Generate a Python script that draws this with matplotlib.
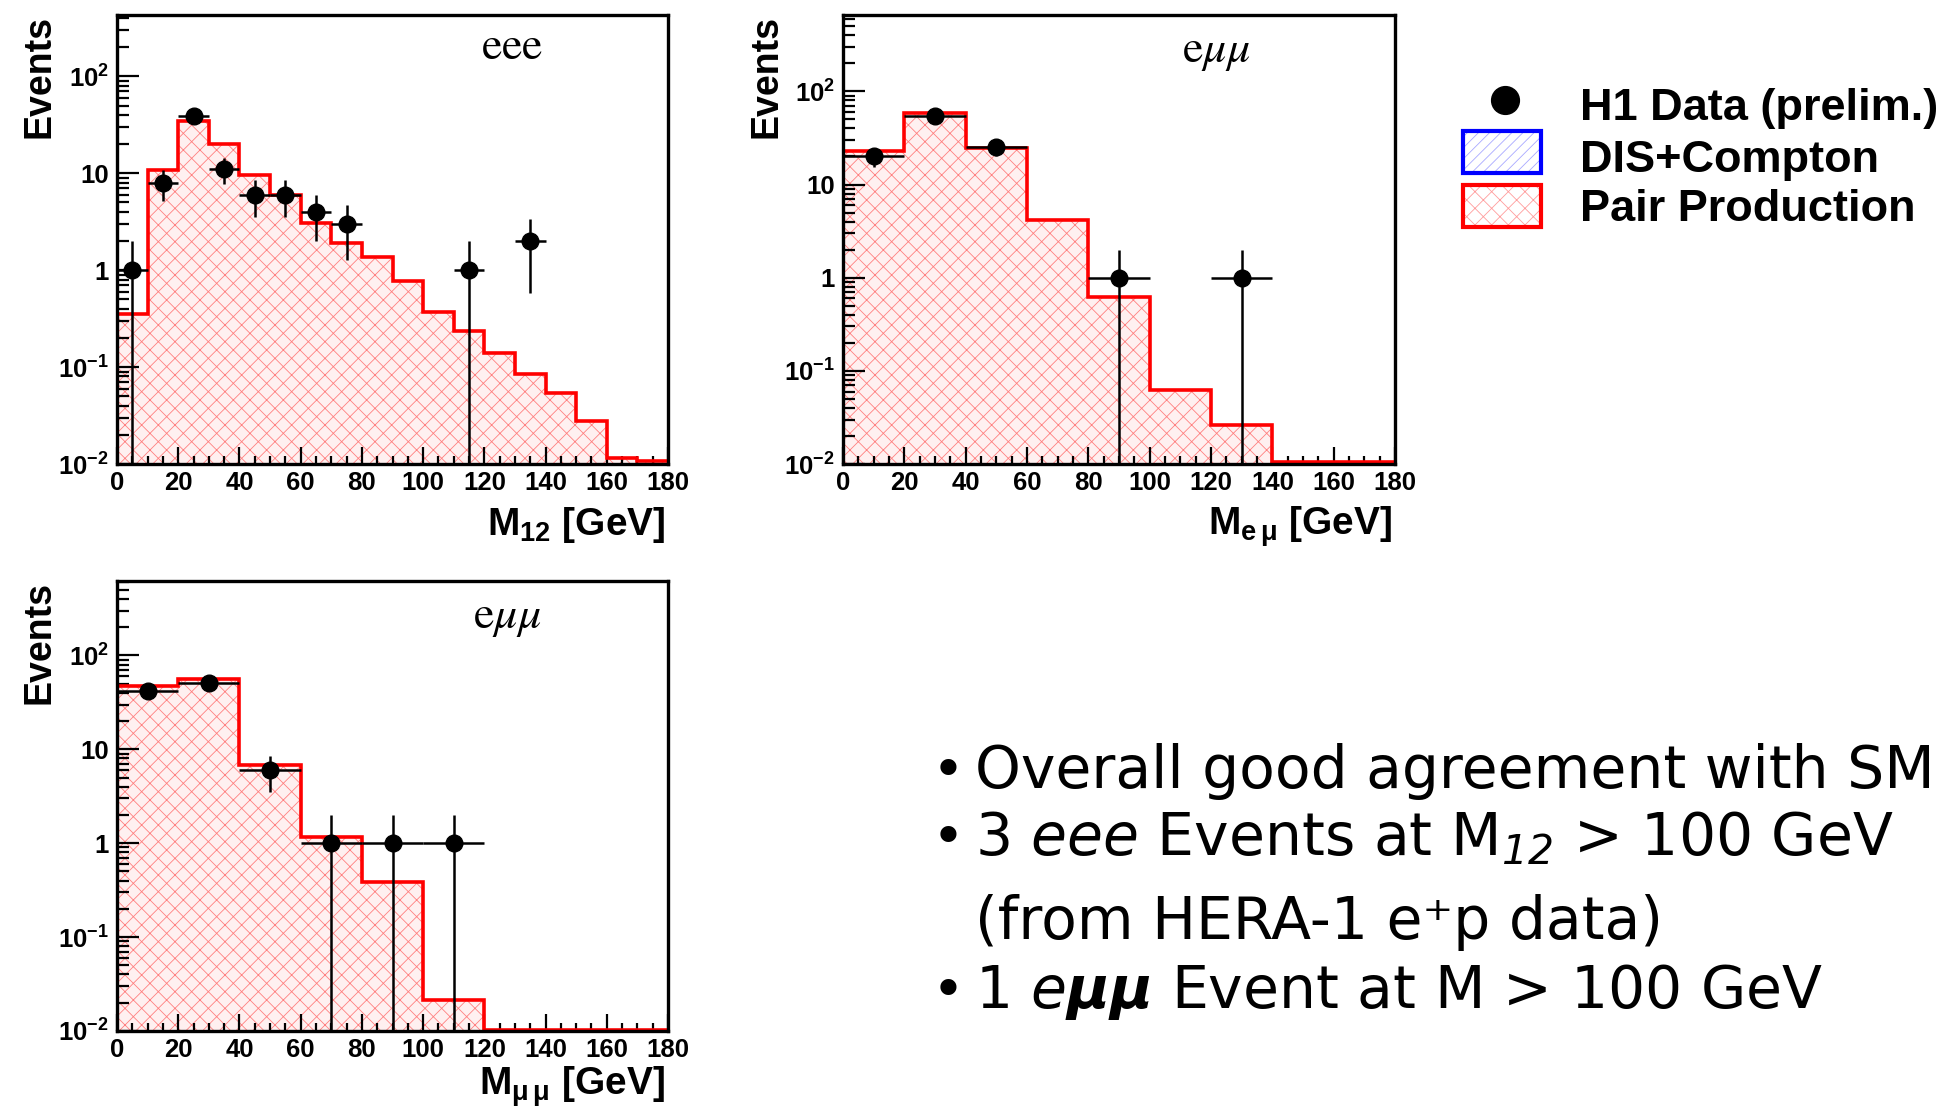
import numpy as np
import matplotlib
matplotlib.use('Agg')
import matplotlib.pyplot as plt
from matplotlib.ticker import LogLocator, NullFormatter
from matplotlib.patches import Rectangle
from matplotlib.lines import Line2D

W, H = 1955, 1112

# eee channel, 10 GeV bins
eee_edges = np.arange(0, 181, 10)
eee_pair = [0.35, 10.9, 35, 20, 9.7, 5.9, 3.1, 1.9, 1.38, 0.78, 0.37, 0.235,
            0.139, 0.084, 0.054, 0.028, 0.0115, 0.0107]
eee_mass = [5, 15, 25, 35, 45, 55, 65, 75, 115, 135]
eee_nevt = [1, 8, 39, 11, 6, 6, 4, 3, 1, 2]

# e-mu-mu channel, e-mu mass, 20 GeV bins
emu_edges = np.arange(0, 181, 20)
emu_pair = [23, 59, 24.4, 4.2, 0.62, 0.063, 0.026, 0.0105, 0.0105]
emu_mass = [10, 30, 50, 90, 130]
emu_nevt = [20, 54, 25, 1, 1]

# e-mu-mu channel, mu-mu mass, 20 GeV bins
mumu_edges = np.arange(0, 181, 20)
mumu_pair = [47, 56, 6.8, 1.16, 0.39, 0.0215, 0.0102, 0.0102, 0.0102]
mumu_mass = [10, 30, 50, 70, 90, 110]
mumu_nevt = [42, 51, 6, 1, 1, 1]

ytick_vals = [1e-2, 1e-1, 1, 10, 100]
ytick_text = ['$10^{-2}$', '$10^{-1}$', '1', '10', '$10^{2}$']

legend_text = ['H1 Data (prelim.)', 'DIS+Compton', 'Pair Production']
bullet_text = ['Overall good agreement with SM',
               r'3 $\mathit{eee}$ Events at M$_{\mathrm{12}}$ > 100 GeV',
               '(from HERA-1 e\u207ap data)',
               r'1 $\mathit{e}\mathbf{\mu\mu}$ Event at M > 100 GeV']
bullet_mark = [True, True, False, True]

plt.rcParams['font.family'] = 'Liberation Sans'
plt.rcParams['mathtext.default'] = 'regular'
# slanted set used by the notes (math_fontfamily='custom')
plt.rcParams['mathtext.rm'] = 'DejaVu Sans:italic'
plt.rcParams['mathtext.it'] = 'DejaVu Sans:italic'
plt.rcParams['mathtext.bf'] = 'DejaVu Sans:bold:italic'
plt.rcParams['hatch.linewidth'] = 0.6


def px_axes(fig, left, top, right, bottom):
    return fig.add_axes([left / W, 1 - bottom / H, (right - left) / W, (bottom - top) / H])


def draw_panel(ax, edges, pair, mass, nevt, ymax, tag, xlabel, ylab_x, xlab_off=71):
    mass = np.array(mass, float)
    nevt = np.array(nevt, float)
    half = (edges[1] - edges[0]) / 2.0
    err = np.sqrt(nevt)
    lo = np.minimum(err, nevt - 1e-4)

    ax.stairs(pair, edges, baseline=1e-4, fill=True, facecolor='#fff0f0',
              edgecolor='#ff8080', hatch='xx', linewidth=0, zorder=1)
    ax.stairs(pair, edges, baseline=None, color='red', linewidth=2.6, zorder=2)
    ax.errorbar(mass, nevt, xerr=half, yerr=[lo, err], fmt='o', color='black',
                ms=12, elinewidth=1.8, capsize=0, zorder=3)

    ax.set_xlim(0, 180)
    ax.set_yscale('log')
    ax.set_ylim(0.01, ymax)
    ax.set_xticks(np.arange(0, 181, 20))
    ax.set_xticks(np.arange(0, 181, 5), minor=True)
    ax.set_yticks(ytick_vals, ytick_text)
    ax.yaxis.set_minor_locator(LogLocator(base=10, subs=np.arange(2, 10), numticks=100))
    ax.yaxis.set_minor_formatter(NullFormatter())
    ax.tick_params(which='both', direction='in', top=False, right=False, width=1.6,
                   labelsize=18.5)
    ax.tick_params(axis='y', which='major', length=16, pad=6)
    ax.tick_params(axis='y', which='minor', length=8.5)
    ax.tick_params(axis='x', which='major', length=12, pad=5)
    ax.tick_params(axis='x', which='minor', length=6)
    for lab in ax.get_xticklabels() + ax.get_yticklabels():
        lab.set_fontweight('bold')
    for sp in ax.spines.values():
        sp.set_linewidth(2.4)
        sp.set_zorder(5)

    ax.text(ylab_x, 1.0, 'Events', rotation=90, ha='center', va='top',
            fontsize=27, fontweight='bold', transform=ax.transAxes)
    ax.text(0.995, -xlab_off / 449, xlabel, ha='right', va='baseline', fontsize=28,
            fontweight='bold', math_fontfamily='dejavusans', transform=ax.transAxes)
    ax.text(tag[1], tag[2], tag[0], ha='center', va='center', fontsize=33,
            math_fontfamily='stix', transform=ax.transAxes)


fig = plt.figure(figsize=(W / 100, H / 100), dpi=100)

# overlay in pixel units for the legend and the notes
ov = fig.add_axes([0, 0, 1, 1])
ov.set_xlim(0, W)
ov.set_ylim(H, 0)
ov.axis('off')

ax1 = px_axes(fig, 117, 15, 668, 464)
draw_panel(ax1, eee_edges, eee_pair, eee_mass, eee_nevt, 430,
           (r'$\mathrm{eee}$', 0.717, 0.928), r'M$_{12}$ [GeV]', -0.14)

ax2 = px_axes(fig, 843, 15, 1395, 464)
draw_panel(ax2, emu_edges, emu_pair, emu_mass, emu_nevt, 660,
           (r'$\mathrm{e}\mathit{\mu\mu}$', 0.677, 0.92), r'M$_{e\,\mu}$ [GeV]', -0.138)

ax3 = px_axes(fig, 117, 581, 668, 1031)
draw_panel(ax3, mumu_edges, mumu_pair, mumu_mass, mumu_nevt, 620,
           (r'$\mathrm{e}\mathit{\mu\mu}$', 0.708, 0.92), r'M$_{\mu\,\mu}$ [GeV]', -0.14,
           xlab_off=64)

# legend
ov.add_line(Line2D([1505], [100], marker='o', ms=20, color='black', linestyle='none'))
ov.add_patch(Rectangle((1463, 131), 78, 42, facecolor='white', edgecolor='#a8a8ff',
                       hatch='///', linewidth=0))
ov.add_patch(Rectangle((1463, 131), 78, 42, fill=False, edgecolor='blue', linewidth=3))
ov.add_patch(Rectangle((1463, 185), 78, 42, facecolor='white', edgecolor='#ff9c9c',
                       hatch='xx', linewidth=0))
ov.add_patch(Rectangle((1463, 185), 78, 42, fill=False, edgecolor='red', linewidth=3))
for txt, yb in zip(legend_text, [120, 172, 221]):
    ov.text(1580, yb, txt, fontsize=32.5, fontweight='bold', ha='left', va='baseline')

# bullet notes
for txt, mark, yb in zip(bullet_text, bullet_mark, [788, 855, 939, 1008]):
    if mark:
        ov.text(932, yb, '\u2022', fontsize=40, family='DejaVu Sans',
                ha='left', va='baseline')
    ov.text(975, yb, txt, fontsize=42, family='DejaVu Sans',
            math_fontfamily='custom', ha='left', va='baseline')

fig.savefig('out.png', dpi=100)
